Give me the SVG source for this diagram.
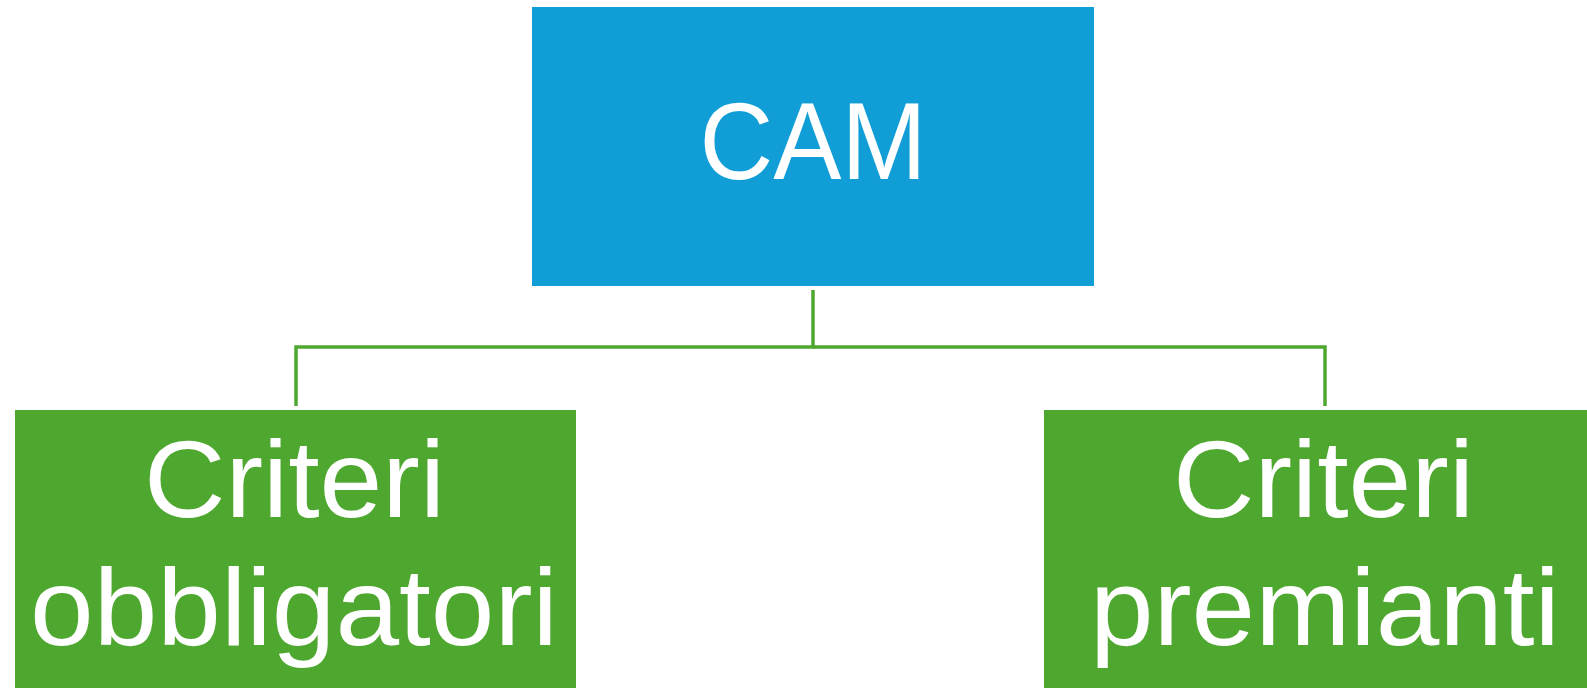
<svg xmlns="http://www.w3.org/2000/svg" width="1587" height="688" viewBox="0 0 1587 688">
<style>
.lbl{font-family:"Liberation Sans",Arial,sans-serif;font-size:110px;fill:#fff;text-anchor:middle}
.conn{fill:none;stroke:#4EA72E;stroke-width:3.5}
</style>
<rect width="1587" height="688" fill="#fff"/>
<g id="connectors">
<path class="conn" d="M813,290 V347 H296 V406"/>
<path class="conn" d="M813,347 H1325 V406"/>
</g>
<g id="cam">
<rect x="532" y="7" width="562" height="279" fill="#119ED7"/>
<text class="lbl" x="813" y="179" textLength="227" lengthAdjust="spacingAndGlyphs">CAM</text>
</g>
<g id="obbligatori">
<rect x="15" y="410" width="561" height="290" fill="#4EA72E"/>
<text class="lbl" x="294.5" y="517" textLength="301" lengthAdjust="spacingAndGlyphs">Criteri</text>
<text class="lbl" x="294" y="645" textLength="528" lengthAdjust="spacingAndGlyphs">obbligatori</text>
</g>
<g id="premianti">
<rect x="1044" y="410" width="562" height="290" fill="#4EA72E"/>
<text class="lbl" x="1323.5" y="517" textLength="301" lengthAdjust="spacingAndGlyphs">Criteri</text>
<text class="lbl" x="1325" y="645" textLength="470" lengthAdjust="spacingAndGlyphs">premianti</text>
</g>
</svg>
